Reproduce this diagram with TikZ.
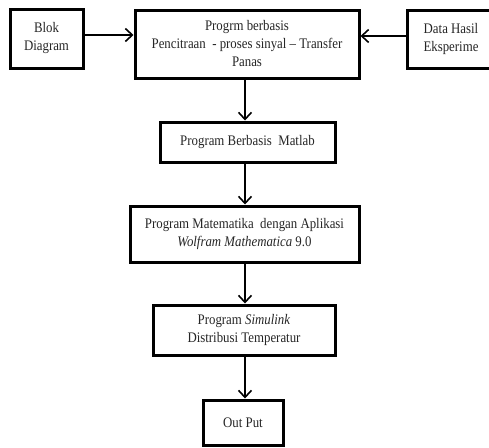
\documentclass[tikz,border=0pt]{standalone}
\usepackage{fontspec}
\setmainfont{Liberation Serif}[FakeStretch=0.88]
\usetikzlibrary{arrows.meta}
\begin{document}
\begin{tikzpicture}[x=1pt,y=-1pt,
  blk/.style={draw=black,line width=3pt,fill=white,inner sep=0pt,align=center,
    font=\fontsize{14.6}{18}\selectfont,text=black!85},
  arr/.style={line width=1.6pt,-{Straight Barb[length=7pt,width=13pt,line width=1.6pt]}}]
\useasboundingbox (0,0) rectangle (489,447);
\clip (0,0) rectangle (489,447);
\node[blk,minimum width=73pt,minimum height=59pt] (blok) at (46.5,38.5) {Blok\\Diagram};
\node[blk,minimum width=224pt,minimum height=68pt] (main) at (247,44) {Progrm berbasis\\Pencitraan\ \ - proses sinyal -- Transfer\\Panas};
\node[blk,minimum width=88pt,minimum height=58pt] (data) at (451,39) {Data Hasil\\Eksperime};
\node[blk,minimum width=175pt,minimum height=40pt] (matlab) at (247.5,142) {Program Berbasis\ \ Matlab};
\node[blk,minimum width=229pt,minimum height=56pt] (math) at (244.5,234) {Program Matematika\ \ dengan Aplikasi\\\textit{Wolfram Mathematica} 9.0};
\node[blk,minimum width=182pt,minimum height=50pt] (sim) at (244,330) {Program \textit{Simulink}\\Distribusi Temperatur};
\node[blk,minimum width=80pt,minimum height=45pt] (out) at (243,422.5) {Out Put};
\coordinate (cx) at (245,0);
\draw[arr] ([yshift=3.5pt]blok.east) -- ([yshift=3.5pt]blok.east -| main.west);
\draw[arr] ([yshift=3pt]data.west) -- ([yshift=3pt]data.west -| main.east);
\draw[arr] (cx |- main.south) -- (cx |- matlab.north);
\draw[arr] (cx |- matlab.south) -- (cx |- math.north);
\draw[arr] (cx |- math.south) -- (cx |- sim.north);
\draw[arr] (cx |- sim.south) -- (cx |- out.north);
\end{tikzpicture}
\end{document}
